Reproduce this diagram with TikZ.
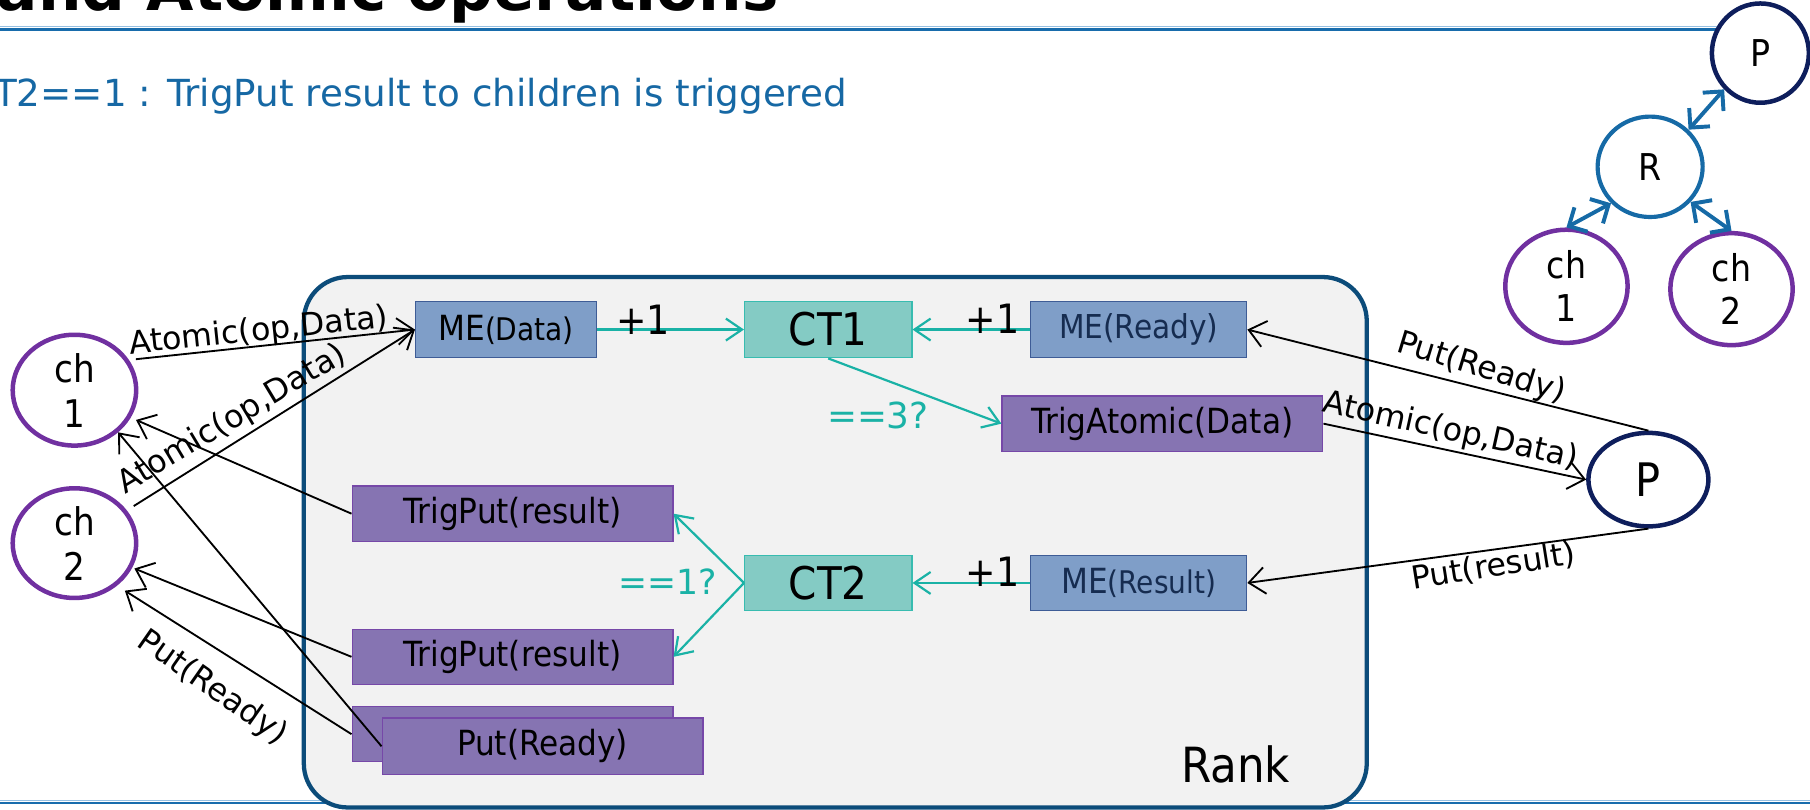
\documentclass[tikz,border=0pt]{standalone}
\usepackage{fontspec}
\setmainfont{DejaVu Sans}
\newfontfamily\condfont{DejaVu Sans Condensed}
\usetikzlibrary{arrows.meta,shapes.geometric}

\definecolor{rankblue}{RGB}{12,76,122}
\definecolor{rankfill}{RGB}{242,242,242}
\definecolor{mefill}{RGB}{127,158,200}
\definecolor{meedge}{RGB}{62,92,150}
\definecolor{metext}{RGB}{22,44,80}
\definecolor{ctfill}{RGB}{132,203,196}
\definecolor{ctedge}{RGB}{56,188,176}
\definecolor{trigfill}{RGB}{134,116,178}
\definecolor{trigedge}{RGB}{118,72,168}
\definecolor{ctline}{RGB}{26,178,166}
\definecolor{chpurple}{RGB}{112,48,160}
\definecolor{pnavy}{RGB}{14,30,92}
\definecolor{rblue}{RGB}{22,106,166}
\definecolor{subblue}{RGB}{22,104,164}
\definecolor{ruledark}{RGB}{24,108,172}
\definecolor{rulelight}{RGB}{150,192,226}

\newcommand\fsz[1]{\fontsize{#1}{#1}\selectfont}

\tikzset{
  rule/.style={ruledark, line width=2.2pt},
  rulehi/.style={rulelight, line width=1pt},
  rankbox/.style={rectangle, draw=rankblue, fill=rankfill, line width=3.7pt,
    rounded corners=38pt, inner sep=0pt},
  mebox/.style={rectangle, draw=meedge, fill=mefill, line width=1.1pt,
    minimum width=187, minimum height=49, inner sep=0pt, text=metext,
    font=\condfont\fsz{28.5}},
  ctbox/.style={rectangle, draw=ctedge, fill=ctfill, line width=1pt,
    minimum width=145, minimum height=49, inner sep=0pt, font=\condfont\fsz{39}},
  trigbox/.style={rectangle, draw=trigedge, fill=trigfill, line width=1pt,
    minimum width=278, minimum height=48, inner sep=0pt, font=\condfont\fsz{30}},
  chnode/.style={ellipse, draw=chpurple, line width=3.9pt, minimum width=107,
    minimum height=96, inner sep=0pt, align=center,
    font=\condfont\fontsize{33}{39}\selectfont},
  pnode/.style={ellipse, draw=pnavy, line width=3.9pt, inner sep=0pt},
  rnode/.style={ellipse, draw=rblue, line width=3.6pt, inner sep=0pt},
  conn/.style={draw=black, line width=1.6pt, -{Straight Barb[length=14pt,width=23pt]}},
  ctconn/.style={draw=ctline, line width=1.9pt, -{Straight Barb[length=14pt,width=19pt]}},
  treearrow/.style={draw=rblue, line width=3.4pt,
    {Straight Barb[length=12pt,width=24pt]}-{Straight Barb[length=12pt,width=24pt]}},
  lbl/.style={font=\fsz{27.5}, inner sep=0pt},
  cnt/.style={font=\condfont\fsz{35}, inner sep=0pt, anchor=base},
  testlbl/.style={text=ctline, font=\fsz{31}, inner sep=0pt, anchor=base},
}

\begin{document}
\begin{tikzpicture}[x=1pt,y=-1pt]
\clip (0,0) rectangle (1568,701);

% header and footer rules
\draw[rulehi] (0,23.3) -- (1490,23.3);
\draw[rule] (0,25.6) -- (1490,25.6);
\draw[rulehi] (0,693.4) -- (1568,693.4);
\draw[rule] (0,695.6) -- (1568,695.6);

% heading
\node[anchor=base west, font=\bfseries\fsz{53}, inner sep=0pt] (title) at (-3,9.5) {and Atomic operations};
\node[anchor=base east, font=\fsz{32.3}, text=subblue, inner sep=0pt] (subtitle) at (734,92)
  {T2==1 : TrigPut result to children is triggered};

% the rank
\node[rankbox, minimum width=920.8, minimum height=459.5] (rank) at (723.6,469.75) {};
\node[anchor=base, font=\condfont\fsz{42}, inner sep=0pt] (ranklabel) at (1070.5,678) {Rank};

% matching entries, counters and triggered operations
\node[mebox, minimum width=157, text=black, font=\condfont\fsz{30}] (medata) at (438.5,285.5) {ME{\fsz{27}(Data)}};
\node[ctbox] (ct1) at (717.5,285.5) {CT1};
\node[mebox] (meready) at (986.5,285.5) {ME(Ready)};
\node[trigbox] (trigatomic) at (1007,367) {TrigAtomic(Data)};
\node[trigbox] (trigput1) at (444,445) {TrigPut(result)};
\node[ctbox, minimum height=48] (ct2) at (717.5,505) {CT2};
\node[mebox, minimum height=48, font=\condfont\fsz{30}] (meresult) at (986.5,505) {ME{\fsz{27}(Result)}\hspace{18pt}};
\node[trigbox] (trigput2) at (444,569) {TrigPut(result)};
\node[trigbox] (putreadyback) at (444,636) {};
\node[trigbox, minimum height=49] (putready) at (470,646.5) {Put(Ready)};

% processes
\node[chnode] (lch1) at (64.5,338) {ch\\1};
\node[chnode, minimum height=95] (lch2) at (64.5,470.5) {ch\\2};
\node[pnode, minimum width=104, minimum height=81, font=\condfont\fsz{40}] (pright) at (1428,415.5) {P};

% small tree
\node[pnode, fill=white, minimum width=84, minimum height=86, font=\condfont\fsz{32}] (ptop) at (1525,46) {P};
\node[rnode, minimum width=91, minimum height=87, font=\condfont\fsz{32}] (r) at (1429.5,144.5) {R};
\node[chnode, minimum width=106, minimum height=98, font=\condfont\fontsize{32}{37.5}\selectfont] (tch1) at (1357,248) {ch\\1};
\node[chnode, minimum width=106, minimum height=97, font=\condfont\fontsize{32}{37.5}\selectfont] (tch2) at (1500,250.5) {ch\\2};
\draw[treearrow] (r.44) -- (ptop.225);
\draw[treearrow] (r.223) -- (tch1.90);
\draw[treearrow] (r.-41) -- (tch2.90);

% counter updates
\draw[ctconn] (medata) -- (ct1);
\draw[ctconn] (meready) -- (ct1);
\draw[ctconn] (ct1.south) -- (trigatomic.west);
\draw[ctconn] (meresult) -- (ct2);
\draw[ctconn] (ct2.west) -- (trigput1.east);
\draw[ctconn] (ct2.west) -- (trigput2.east);
\node[cnt] (inc1) at (557,290) {+1};
\node[cnt] (inc2) at (860,288.5) {+1};
\node[cnt] (inc3) at (860,508.5) {+1};
\node[testlbl] (eq3) at (760.5,371) {==3?};
\node[testlbl, font=\fsz{30}] (eq1) at (578.5,515) {==1?};

% messages
\draw[conn, shorten <=6pt] (lch1.29) -- (medata.west);
\draw[conn, shorten <=7pt] (lch2.32) -- (medata.west);
\draw[conn, shorten >=5pt] (trigput1.west) -- (lch1.-26);
\draw[conn] (putready.west) -- (lch1.-44);
\draw[conn, shorten >=2pt] (trigput2.west) -- (lch2.-23);
\draw[conn, shorten >=8pt] (putreadyback.west) -- (lch2.-45);
\draw[conn] (pright.north) -- (meready.east);
\draw[conn] (trigatomic.east) -- (pright.west);
\draw[conn] (pright.south) -- (meresult.east);

\node[lbl, anchor=base, rotate=6] (l1) at (225,295) {Atomic(op,Data)};
\node[lbl, anchor=base, rotate=31] (l2) at (205,370) {Atomic(op,Data)};
\node[lbl, rotate=-35] (l3) at (184,596) {Put(Ready)};
\node[lbl, rotate=-17] (l4) at (1283,319) {Put(Ready)};
\node[lbl, anchor=base, rotate=-12.5] (l5) at (1255,381) {Atomic(op,Data)};
\node[lbl, rotate=9] (l6) at (1294,491) {Put(result)};
\end{tikzpicture}
\end{document}
